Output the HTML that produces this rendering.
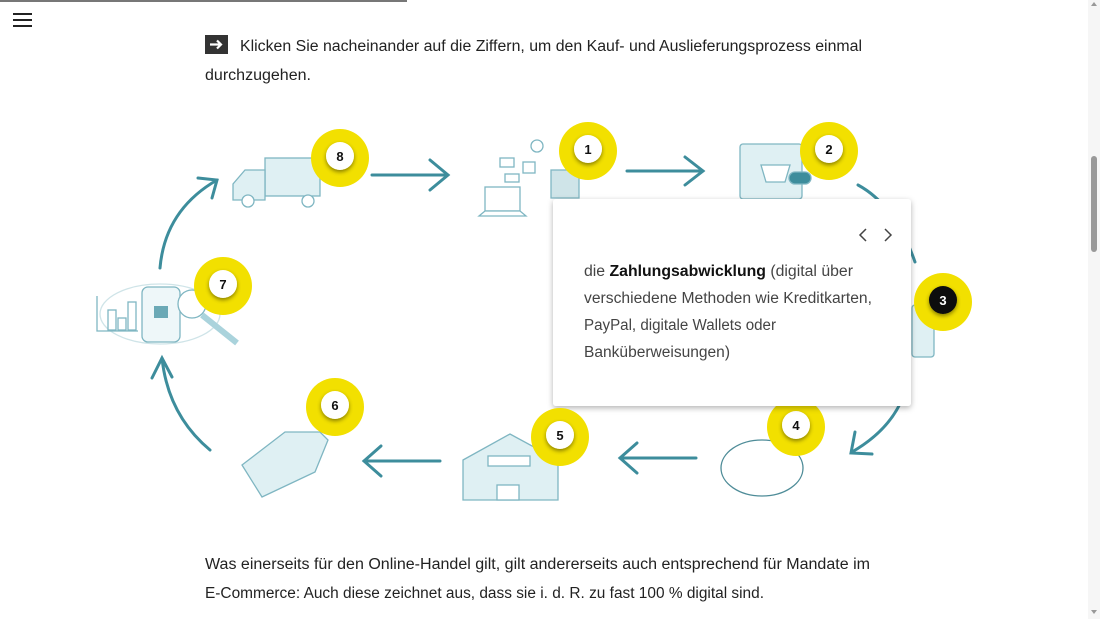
<!DOCTYPE html>
<html><head><meta charset="utf-8"><style>
html,body{margin:0;padding:0;background:#fff;width:1100px;height:619px;overflow:hidden}
svg{display:block}
text{font-family:"Liberation Sans",sans-serif}
</style></head><body>
<svg width="1100" height="619" viewBox="0 0 1100 619" xmlns="http://www.w3.org/2000/svg">
<defs>
<filter id="sh" x="-30%" y="-30%" width="160%" height="160%"><feDropShadow dx="0" dy="2" stdDeviation="2" flood-color="#000" flood-opacity="0.45"/></filter>
<filter id="ps" x="-10%" y="-10%" width="120%" height="130%"><feDropShadow dx="0" dy="2" stdDeviation="3" flood-color="#000" flood-opacity="0.3"/></filter>
</defs>
<!-- top progress bar -->
<rect x="0" y="0" width="407" height="2" fill="#777"/>
<!-- hamburger -->
<rect x="13" y="13" width="19" height="2" fill="#222"/>
<rect x="13" y="19" width="19" height="2" fill="#222"/>
<rect x="13" y="25" width="19" height="2" fill="#222"/>
<!-- scrollbar -->
<rect x="1088" y="0" width="12" height="619" fill="#f6f6f6"/>
<rect x="1091" y="156" width="6" height="96" rx="3" fill="#999"/>
<path d="M1091 6 L1097 6 L1094 2 Z" fill="#999"/>
<path d="M1091 610 L1097 610 L1094 614 Z" fill="#999"/>
<!-- intro -->
<rect x="205" y="35" width="23" height="19" fill="#333"/>
<path d="M210 44.5 H221 M217 40.5 L221 44.5 L217 48.5" stroke="#fff" stroke-width="2.2" fill="none"/>
<text x="240" y="51" font-size="15.5" fill="#222" textLength="622" lengthAdjust="spacingAndGlyphs">Klicken Sie nacheinander auf die Ziffern, um den Kauf- und Auslieferungsprozess einmal</text>
<text x="205" y="80" font-size="15.5" fill="#222" textLength="106" lengthAdjust="spacingAndGlyphs">durchzugehen.</text>

<!-- arrows -->
<g stroke="#3d8d9c" stroke-width="3" fill="none" stroke-linecap="round">
<path d="M372 175 H448 M430 160 L448 175 L430 190"/>
<path d="M627 171 H703 M685 157 L703 171 L685 185"/>
<path d="M858 185 Q895 205 915 262"/>
<path d="M903 397 Q890 430 852 452 M855 432 L851 453 L872 454"/>
<path d="M696 458 H620 M637 443 L620 458 L637 473"/>
<path d="M440 461 H364 M381 446 L364 461 L381 476"/>
<path d="M210 450 Q168 415 162 358 M152 378 L162 358 L172 377"/>
<path d="M160 268 Q165 210 217 180 M198 178 L217 180 L212 198"/>
</g>

<!-- illustrations (light sketches) -->
<g stroke="#7fb6c2" stroke-width="1.3" fill="#dff0f3">
<!-- truck -->
<rect x="265" y="158" width="55" height="38" />
<path d="M265 170 H245 L233 184 V200 H265 Z"/>
<circle cx="248" cy="201" r="6" fill="#fff"/><circle cx="308" cy="201" r="6" fill="#fff"/>
<!-- laptop & icons -->
<rect x="485" y="187" width="35" height="24" fill="#fff"/>
<path d="M479 216 H526 L520 211 H485 Z" fill="#fff"/>
<rect x="500" y="158" width="14" height="9" fill="#fff"/>
<circle cx="537" cy="146" r="6" fill="#fff"/>
<rect x="523" y="162" width="12" height="11" fill="#fff"/>
<rect x="505" y="174" width="14" height="8" fill="#fff"/>
<rect x="551" y="170" width="28" height="28" fill="#cfe4e8"/>
<!-- shop screen -->
<rect x="740" y="144" width="62" height="55" rx="3"/>
<path d="M761 165 H790 L785 182 H766 Z" fill="#fff"/>
<rect x="789" y="172" width="22" height="12" rx="6" fill="#3d8d9c"/>
<!-- card -->
<rect x="912" y="305" width="22" height="52" rx="3"/>
<!-- bubble -->
<ellipse cx="762" cy="468" rx="41" ry="28" fill="#fff" stroke="#4e8c98"/>
<!-- warehouse -->
<path d="M463 460 L510 434 L558 460 V500 H463 Z"/>
<rect x="488" y="456" width="42" height="10" fill="#fff"/>
<rect x="497" y="485" width="22" height="15" fill="#fff"/>
<!-- tag -->
<path d="M242 465 L285 432 H320 L328 440 L315 472 L262 497 Z"/>
<!-- phone eye -->
<ellipse cx="160" cy="314" rx="60" ry="30" fill="none" stroke="#cfe4e8"/>
<rect x="142" y="287" width="38" height="55" rx="6" fill="#eef7f9"/>
<rect x="154" y="306" width="14" height="12" fill="#6ba9b6" stroke="none"/>
<circle cx="192" cy="304" r="14" fill="#fff"/>
<path d="M202 315 L237 343" stroke-width="6" stroke="#aad3dc"/>
<rect x="108" y="310" width="8" height="20" fill="#fff"/><rect x="118" y="318" width="8" height="12" fill="#fff"/><rect x="128" y="302" width="8" height="28" fill="#fff"/>
<path d="M97 296 V331 H138" fill="none"/>
</g>

<!-- markers behind popup -->
<g font-size="13" font-weight="bold" text-anchor="middle">
<g><circle cx="796" cy="427" r="29" fill="#f2e000"/><circle cx="796" cy="425" r="14" fill="#fff" filter="url(#sh)"/><text x="796" y="430" fill="#111">4</text></g>
<g><circle cx="829" cy="151" r="29" fill="#f2e000"/><circle cx="829" cy="149" r="14" fill="#fff" filter="url(#sh)"/><text x="829" y="154" fill="#111">2</text></g>
</g>

<!-- popup -->
<rect x="553" y="199" width="358" height="207" rx="3" fill="#fff" filter="url(#ps)"/>
<path d="M866 229 L860 235 L866 241 M885 229 L891 235 L885 241" stroke="#444" stroke-width="1.5" fill="none"/>
<g font-size="15.5" fill="#444">
<text x="584" y="276" textLength="269" lengthAdjust="spacingAndGlyphs">die <tspan font-weight="bold" fill="#111">Zahlungsabwicklung</tspan> (digital über</text>
<text x="584" y="303" textLength="288" lengthAdjust="spacingAndGlyphs">verschiedene Methoden wie Kreditkarten,</text>
<text x="584" y="330" textLength="192" lengthAdjust="spacingAndGlyphs">PayPal, digitale Wallets oder</text>
<text x="584" y="357" textLength="146" lengthAdjust="spacingAndGlyphs">Banküberweisungen)</text>
</g>

<!-- other markers -->
<g font-size="13" font-weight="bold" text-anchor="middle">
<g><circle cx="340" cy="158" r="29" fill="#f2e000"/><circle cx="340" cy="156" r="14" fill="#fff" filter="url(#sh)"/><text x="340" y="161" fill="#111">8</text></g>
<g><circle cx="588" cy="151" r="29" fill="#f2e000"/><circle cx="588" cy="149" r="14" fill="#fff" filter="url(#sh)"/><text x="588" y="154" fill="#111">1</text></g>
<g><circle cx="943" cy="302" r="29" fill="#f2e000"/><circle cx="943" cy="300" r="14" fill="#111" filter="url(#sh)"/><text x="943" y="305" fill="#fff">3</text></g>
<g><circle cx="223" cy="286" r="29" fill="#f2e000"/><circle cx="223" cy="284" r="14" fill="#fff" filter="url(#sh)"/><text x="223" y="289" fill="#111">7</text></g>
<g><circle cx="335" cy="407" r="29" fill="#f2e000"/><circle cx="335" cy="405" r="14" fill="#fff" filter="url(#sh)"/><text x="335" y="410" fill="#111">6</text></g>
<g><circle cx="560" cy="437" r="29" fill="#f2e000"/><circle cx="560" cy="435" r="14" fill="#fff" filter="url(#sh)"/><text x="560" y="440" fill="#111">5</text></g>
</g>

<!-- bottom text -->
<text x="205" y="569" font-size="15.5" fill="#222" textLength="665" lengthAdjust="spacingAndGlyphs">Was einerseits für den Online-Handel gilt, gilt andererseits auch entsprechend für Mandate im</text>
<text x="205" y="598" font-size="15.5" fill="#222" textLength="559" lengthAdjust="spacingAndGlyphs">E-Commerce: Auch diese zeichnet aus, dass sie i. d. R. zu fast 100 % digital sind.</text>
</svg>
</body></html>
